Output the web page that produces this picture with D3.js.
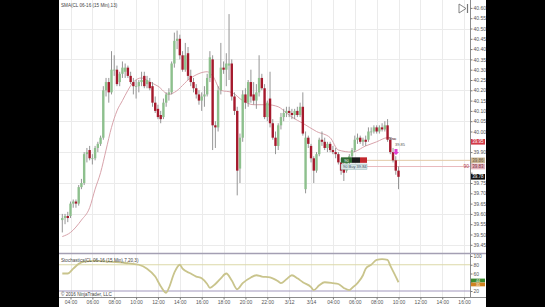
<!DOCTYPE html>
<html>
<head>
<meta charset="utf-8">
<script src="https://cdn.jsdelivr.net/npm/d3@7"></script>
<style>
body { margin: 0; background: #000; }
svg { display: block; font-family: "Liberation Sans", Arial, sans-serif; }
</style>
</head>
<body>
<div class="chart"></div>
<script>
var width = 545,
    height = 307;

// 15 min bars
var opens = [39.57,39.58,39.59,39.59,39.65,39.66,39.65,39.73,39.75,39.89,39.91,39.87,39.87,39.92,39.94,39.97,40.20,40.24,40.19,40.30,
  40.30,40.24,40.28,40.29,40.31,40.27,40.24,40.22,40.22,40.24,40.27,40.23,40.24,40.22,40.14,40.11,40.08,40.07,40.14,40.18,
  40.19,40.33,40.44,40.45,40.37,40.30,40.38,40.27,40.24,40.21,40.18,40.15,40.17,40.18,40.26,40.35,40.03,40.02,40.20,40.31,
  40.30,40.32,40.33,40.17,40.10,39.82,39.97,40.18,40.14,40.24,40.18,40.15,40.19,40.26,40.21,40.07,40.16,40.04,39.97,39.93,
  40.03,40.07,40.09,40.10,40.09,40.08,40.10,40.08,40.12,39.72,39.97,39.93,39.87,39.81,39.89,39.96,39.95,39.92,39.94,39.91,
  39.90,39.89,39.85,39.82,39.81,39.86,39.88,39.91,39.96,39.97,39.95,39.96,39.96,40.00,40.00,40.02,40.00,40.02,40.01,40.03,
  39.96,39.90,39.86,39.81];
var highs = [39.60,39.60,39.61,39.66,39.67,39.67,39.74,39.77,39.90,39.92,39.93,39.89,39.93,39.95,39.98,40.22,40.26,40.26,40.39,40.37,
  40.32,40.29,40.34,40.33,40.32,40.29,40.26,40.25,40.25,40.29,40.29,40.27,40.26,40.24,40.17,40.13,40.10,40.16,40.19,40.21,
  40.34,40.48,40.49,40.47,40.39,40.43,40.41,40.30,40.26,40.23,40.20,40.19,40.22,40.28,40.39,40.37,40.05,40.22,40.43,40.34,
  40.38,40.57,40.35,40.19,40.12,39.99,40.20,40.21,40.25,40.30,40.24,40.23,40.37,40.28,40.23,40.15,40.29,40.06,40.00,40.04,
  40.09,40.11,40.12,40.12,40.11,40.11,40.12,40.14,40.19,40.00,39.98,39.94,39.88,39.90,39.97,40.00,39.97,39.95,39.95,39.93,
  39.92,39.90,39.87,39.86,39.87,39.89,39.92,39.98,39.99,39.98,39.97,39.98,40.02,40.02,40.03,40.03,40.03,40.04,40.05,40.06,
  39.97,39.92,39.88,39.83];
var lows = [39.51,39.55,39.56,39.58,39.63,39.63,39.64,39.72,39.74,39.85,39.86,39.84,39.86,39.90,39.93,39.96,40.17,40.14,40.18,40.27,
  40.22,40.22,40.26,40.26,40.26,40.23,40.18,40.16,40.19,40.22,40.21,40.21,40.20,40.12,40.09,40.06,40.04,40.06,40.12,40.15,
  40.18,40.31,40.40,40.35,40.29,40.29,40.25,40.22,40.19,40.16,40.13,40.10,40.12,40.17,40.24,39.91,39.92,40.00,40.18,40.28,
  40.22,40.25,40.15,40.08,39.69,39.75,39.95,40.11,40.12,40.14,40.13,40.11,40.17,40.20,40.06,40.05,40.02,39.96,39.89,39.91,
  40.01,40.05,40.07,40.07,40.06,40.06,40.07,40.07,39.98,39.70,39.92,39.85,39.75,39.80,39.88,39.93,39.91,39.90,39.90,39.89,
  39.87,39.84,39.79,39.76,39.80,39.84,39.86,39.90,39.94,39.94,39.93,39.93,39.95,39.98,39.99,39.99,39.99,40.00,40.00,39.95,
  39.89,39.85,39.79,39.72];
var closes = [39.58,39.59,39.58,39.65,39.66,39.65,39.73,39.75,39.89,39.90,39.87,39.87,39.92,39.94,39.97,40.20,40.24,40.19,40.30,40.30,
  40.23,40.28,40.31,40.31,40.27,40.24,40.22,40.22,40.24,40.25,40.22,40.25,40.21,40.14,40.10,40.07,40.06,40.14,40.18,40.19,
  40.33,40.44,40.45,40.37,40.30,40.37,40.27,40.24,40.21,40.18,40.15,40.17,40.18,40.26,40.36,40.03,40.02,40.20,40.31,40.30,
  40.33,40.33,40.17,40.10,39.81,39.97,40.18,40.14,40.24,40.17,40.15,40.19,40.26,40.21,40.07,40.14,40.04,39.97,39.93,40.03,
  40.07,40.09,40.10,40.09,40.08,40.10,40.08,40.12,39.99,39.97,39.94,39.87,39.81,39.89,39.96,39.95,39.92,39.94,39.91,39.90,
  39.89,39.85,39.81,39.80,39.86,39.88,39.91,39.96,39.97,39.95,39.96,39.95,40.00,40.00,40.02,40.00,40.02,40.01,40.03,39.96,
  39.90,39.86,39.81,39.78];

// SMA(13) line, read at some bars
var smaIdx  = [0, 3, 7, 10, 12, 14, 16, 18, 20, 22, 24, 26, 29, 32, 35, 39, 41, 47, 53, 55, 58, 62, 66, 70, 75, 79, 82, 84, 88, 93, 98, 101, 106, 111, 115, 119, 122];
var smaVals = [39.49, 39.51, 39.57, 39.63, 39.72, 39.80, 39.91, 40.02, 40.10, 40.15, 40.20, 40.24, 40.26, 40.24, 40.22, 40.18, 40.19, 40.26, 40.29, 40.27, 40.20, 40.19, 40.15, 40.13, 40.13, 40.12, 40.09, 40.07, 40.04, 40.00, 39.97, 39.91, 39.90, 39.93, 39.95, 39.97, 39.96];

// Stochastics(7,20,3)
var stochIdx  = [0, 2, 4, 6, 8, 12, 17, 23, 28, 31, 34, 36, 38, 39, 41, 43, 44, 47, 49, 51, 53, 54, 56, 58, 60, 62, 64, 66, 69, 71, 73, 76, 79, 80, 82, 84, 86, 88, 91, 92, 94, 96, 99, 101, 103, 105, 106, 108, 110, 111, 113, 115, 117, 119, 120, 122, 123];
var stochVals = [60, 60, 71, 82, 87, 89, 87, 84, 80, 71, 53, 31, 16, 27, 62, 80, 71, 60, 53, 49, 36, 27, 36, 49, 60, 44, 24, 38, 51, 56, 53, 51, 42, 38, 47, 56, 49, 40, 29, 22, 33, 40, 38, 36, 27, 22, 27, 38, 56, 71, 80, 91, 93, 91, 78, 53, 40];

var timeLabels = ["04:00", "06:00", "08:00", "10:00", "12:00", "14:00", "16:00", "18:00", "20:00", "22:00",
  "3/12", "3/14", "04:00", "06:00", "08:00", "10:00", "12:00", "14:00", "16:00"];
var priceTicks = [40.60, 40.55, 40.50, 40.45, 40.40, 40.35, 40.30, 40.25, 40.20, 40.15, 40.10, 40.05,
  40.00, 39.95, 39.90, 39.85, 39.80, 39.75, 39.70, 39.65, 39.60, 39.55, 39.50, 39.45];
var gridPrices = [40.50, 40.35, 40.20, 40.05, 39.90, 39.75, 39.60, 39.45];
var stochTicks = [100, 80, 60, 40, 20];

// price markers on the right axis
var tagPrices = [39.95, 39.86, 39.83, 39.78];
var tagLabels = ["39.95", "39.86", "39.83", "39.78"];
var stochTagVals = [44, 35];

var bars = opens.map(function(o, i) {
    return { i: i, o: o, h: highs[i], l: lows[i], c: closes[i] };
});

var svg = d3.select(".chart").append("svg")
    .attr("width", width)
    .attr("height", height);

svg.append("rect")
    .attr("width", width)
    .attr("height", height)
    .style("fill", "black");

svg.append("rect")
    .attr("x", 59)
    .attr("width", 427)
    .attr("height", height)
    .style("fill", "white");

var x = d3.scaleLinear().domain([0, 123]).range([62.3, 398.5]);
var y = d3.scaleLinear().domain([39.45, 40.60]).range([244.8, 7.9]);
var ys = d3.scaleLinear().domain([20, 100]).range([291, 256]);

var tickIdx = timeLabels.map(function(d, k) { return 3 + 8 * k; });

// grid
svg.append("g").selectAll("line")
    .data(tickIdx)
    .enter().append("line")
    .attr("x1", function(d) { return Math.round(x(d)) + 0.5; })
    .attr("x2", function(d) { return Math.round(x(d)) + 0.5; })
    .attr("y1", 0)
    .attr("y2", 297)
    .style("stroke", "#ebebeb");

svg.append("g").selectAll("line")
    .data(gridPrices)
    .enter().append("line")
    .attr("x1", 59)
    .attr("x2", 470)
    .attr("y1", function(d) { return Math.round(y(d)) + 0.5; })
    .attr("y2", function(d) { return Math.round(y(d)) + 0.5; })
    .style("stroke", "#ebebeb");

// order lines
svg.append("line")
    .attr("x1", 341).attr("x2", 470)
    .attr("y1", y(39.86)).attr("y2", y(39.86))
    .style("stroke", "#e2c9a6");
svg.append("line")
    .attr("x1", 341).attr("x2", 470)
    .attr("y1", y(39.83)).attr("y2", y(39.83))
    .style("stroke", "#e9b9bd");

// sma
svg.append("path")
    .datum(smaIdx)
    .attr("d", d3.line()
        .x(function(d) { return x(d); })
        .y(function(d, k) { return y(smaVals[k]); })
        .curve(d3.curveMonotoneX))
    .style("fill", "none")
    .style("stroke", "#d8a3ab")
    .style("stroke-width", 1);

// candles
var candle = svg.append("g").selectAll("g")
    .data(bars)
    .enter().append("g");

candle.append("line")
    .attr("x1", function(d) { return x(d.i); })
    .attr("x2", function(d) { return x(d.i); })
    .attr("y1", function(d) { return y(d.h); })
    .attr("y2", function(d) { return y(d.l); })
    .style("stroke", "#8a8a8a")
    .style("stroke-width", 0.9);

candle.append("rect")
    .attr("x", function(d) { return x(d.i) - 1.2; })
    .attr("width", 2.4)
    .attr("y", function(d) { return y(Math.max(d.o, d.c)); })
    .attr("height", function(d) { return Math.max(0.8, Math.abs(y(d.o) - y(d.c))); })
    .style("fill", function(d) { return d.c >= d.o ? "#8dc08d" : "#a5192c"; });

// panel borders and axes
svg.append("line")
    .attr("x1", 470.5).attr("x2", 470.5)
    .attr("y1", 0).attr("y2", 297)
    .style("stroke", "#8c8c8c");

svg.append("line")
    .attr("x1", 59).attr("x2", 486)
    .attr("y1", 253.5).attr("y2", 253.5)
    .style("stroke", "#a49fb3")
    .style("stroke-width", 1.3);

svg.append("line")
    .attr("x1", 59).attr("x2", 470)
    .attr("y1", ys(80)).attr("y2", ys(80))
    .style("stroke", "#dcd9a8");

svg.append("line")
    .attr("x1", 59).attr("x2", 470)
    .attr("y1", ys(20)).attr("y2", ys(20))
    .style("stroke", "#a297bd")
    .style("stroke-width", 1.2);

svg.append("line")
    .attr("x1", 59).attr("x2", 486)
    .attr("y1", 297.5).attr("y2", 297.5)
    .style("stroke", "#8c8c8c");

var yAxis = svg.append("g")
    .attr("transform", "translate(470.5,0)")
    .call(d3.axisRight(y).tickValues(priceTicks).tickFormat(d3.format(".2f")).tickSize(2).tickPadding(1));

var sAxis = svg.append("g")
    .attr("transform", "translate(470.5,0)")
    .call(d3.axisRight(ys).tickValues(stochTicks).tickSize(2).tickPadding(1));

var xAxis = svg.append("g")
    .attr("transform", "translate(0,297.5)")
    .call(d3.axisBottom(x).tickValues(tickIdx)
        .tickFormat(function(d, k) { return timeLabels[k]; })
        .tickSize(2).tickPadding(1));

[yAxis, sAxis, xAxis].forEach(function(a) {
    a.select(".domain").remove();
    a.selectAll("line").style("stroke", "#777");
    a.selectAll("text").style("font-size", "5px").style("fill", "#555");
});

// the tags sit on top of these labels
yAxis.selectAll(".tick text")
    .filter(function(d) { return tagPrices.some(function(p) { return Math.abs(y(p) - y(d)) < 5; }); })
    .remove();
sAxis.selectAll(".tick text")
    .filter(function(d) { return stochTagVals.some(function(v) { return Math.abs(ys(v) - ys(d)) < 5; }); })
    .remove();

// stochastics
svg.append("path")
    .datum(stochIdx)
    .attr("d", d3.line()
        .x(function(d) { return x(d); })
        .y(function(d, k) { return ys(stochVals[k]); })
        .curve(d3.curveMonotoneX))
    .style("fill", "none")
    .style("stroke", "#c9c48c")
    .style("stroke-width", 1.8);

// titles
svg.append("text")
    .attr("x", 61).attr("y", 7)
    .text("SMA(CL 06-16 (15 Min),13)")
    .style("font-size", "4.6px").style("fill", "#444");

svg.append("text")
    .attr("x", 61).attr("y", 262)
    .text("Stochastics(CL 06-16 (15 Min),7,20,3)")
    .style("font-size", "4.6px").style("fill", "#444");

svg.append("text")
    .attr("x", 61).attr("y", 296)
    .text("© 2016 NinjaTrader, LLC")
    .style("font-size", "4.6px").style("fill", "#444");

// right axis tags
var tagFill = ["#d23a48", "#cdb896", "#e3b5be", "#111"];
var tagText = ["white", "#6a5a40", "#7a3040", "white"];
tagPrices.forEach(function(p, k) {
    svg.append("rect")
        .attr("x", 471).attr("y", y(p) - 2.8)
        .attr("width", 14).attr("height", 5.6)
        .style("fill", tagFill[k]);
    svg.append("text")
        .attr("x", 478).attr("y", y(p) + 1.6)
        .attr("text-anchor", "middle")
        .text(tagLabels[k])
        .style("font-size", "4.5px").style("fill", tagText[k]);
});
svg.append("text")
    .attr("x", 469).attr("y", y(39.83) + 1.8)
    .attr("text-anchor", "end")
    .text("90")
    .style("font-size", "5px").style("fill", "#b04050");

// stoch value tags
var stochTagFill = ["#3b8b2e", "#d0821e"];
stochTagVals.forEach(function(v, k) {
    svg.append("rect")
        .attr("x", 471).attr("y", ys(v) - 1.9)
        .attr("width", 14).attr("height", 3.8)
        .style("fill", stochTagFill[k]);
    svg.append("text")
        .attr("x", 478).attr("y", ys(v) + 1.3)
        .attr("text-anchor", "middle")
        .text(v)
        .style("font-size", "3.6px").style("fill", "white");
});

// order widget
var ow = svg.append("g");
ow.append("rect").attr("x", 341).attr("y", y(39.86) - 3).attr("width", 11).attr("height", 5.5).style("fill", "#2f6b33");
ow.append("rect").attr("x", 352).attr("y", y(39.86) - 3).attr("width", 8).attr("height", 5.5).style("fill", "#1a1a1a");
ow.append("rect").attr("x", 360).attr("y", y(39.86) - 3).attr("width", 7).attr("height", 5.5).style("fill", "#c2272d");
ow.append("text").attr("x", 346.5).attr("y", y(39.86) + 1.5).attr("text-anchor", "middle")
    .text("90").style("font-size", "4px").style("fill", "white");
ow.append("rect").attr("x", 341).attr("y", y(39.83) - 2.5).attr("width", 26).attr("height", 5.5)
    .style("fill", "#d7e5e6").style("stroke", "#8aa").style("stroke-width", 0.4);
ow.append("text").attr("x", 343).attr("y", y(39.83) + 1.7)
    .text("90 Buy 39.84").style("font-size", "4px").style("fill", "#456");

svg.append("text").attr("x", 389).attr("y", y(39.96))
    .text("Nan").style("font-size", "4px").style("fill", "#555");
svg.append("text").attr("x", 395).attr("y", y(39.93))
    .text("39.85").style("font-size", "4px").style("fill", "#555");
svg.append("path")
    .attr("d", "M394.5," + (y(39.92) + 1) + "h3v3h1.5l-3,3l-3,-3h1.5z")
    .style("fill", "#e040d0");

// top right icon
svg.append("path")
    .attr("d", "M459,4 L466,8.5 L459,13 Z")
    .style("fill", "none").style("stroke", "#777").style("stroke-width", 0.9);
svg.append("line")
    .attr("x1", 467.5).attr("x2", 467.5).attr("y1", 4).attr("y2", 13)
    .style("stroke", "#777").style("stroke-width", 1.2);
</script>
</body>
</html>
